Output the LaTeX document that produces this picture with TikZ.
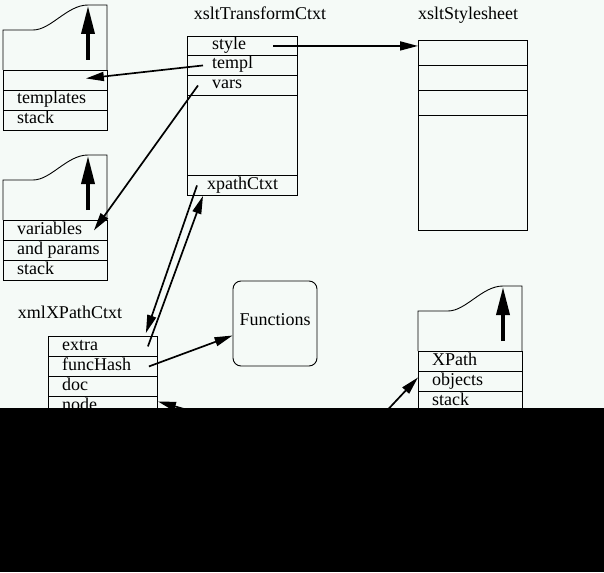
\documentclass[tikz,border=0pt]{standalone}
\usepackage{fontspec}
\setmainfont{Liberation Serif}
\usetikzlibrary{arrows.meta}

\definecolor{paper}{RGB}{245,250,247}
\tikzset{
  fld/.style={draw, line width=0.9pt, rectangle, inner sep=0pt, anchor=north west,
              minimum width=104pt, minimum height=20pt},
  lbl/.style={anchor=base west, inner sep=0pt},
  ttl/.style={anchor=base, inner sep=0pt},
  ptr/.style={line width=1.7pt, -{Triangle[length=18pt,width=9pt]}},
  lift/.style={line width=3.5pt, -{Triangle[length=28pt,width=13pt]}}
}

\begin{document}
\begin{tikzpicture}[x=1pt, y=-1pt, font=\fontsize{18pt}{20pt}\selectfont]
      \useasboundingbox (0,0) rectangle (604,572);
      \fill[paper] (0,0) rectangle (604,572);
      % stacks
      \foreach \x/\y/\a/\b/\c/\st in {3/5/{}/templates/stack/a, 3/155/variables/and params/stack/b, 418/286/XPath/objects/stack/c} {
        \draw[line width=0.9pt] (\x,\y+65) -- (\x,\y+25) -- (\x+30,\y+25)
              .. controls (\x+48,\y+25) and (\x+64,\y) .. (\x+85,\y) -- (\x+104,\y) -- (\x+104,\y+65);
        \draw[lift]   (\x+85,\y+55) -- (\x+85,\y+1);
        \node[fld]    (\st1) at (\x,\y+65) {};
        \node[fld]    (\st2) at (\x,\y+85) {};
        \node[fld]    (\st3) at (\x,\y+105) {};
        \node[lbl]    at ([xshift=14,yshift=-14]\st1.north west) {\a};
        \node[lbl]    at ([xshift=14,yshift=-14]\st2.north west) {\b};
        \node[lbl]    at ([xshift=14,yshift=-14]\st3.north west) {\c};
      }
      % xsltTransformCtxt
      \node[ttl] (tct) at (260,20) {xsltTransformCtxt};
      \foreach \y/\h/\t/\o/\st in {36/19/style/25/sty, 55/20/templ/25/tpl, 75/20/vars/25/var, 95/80/{}/25/blk, 175/20/xpathCtxt/20/xpc} {
        \node[fld, minimum width=110pt, minimum height=\h] (\st) at (187,\y) {};
        \node[lbl] at ([xshift=\o,yshift=-14]\st.north west) {\t};
      }
      % xsltStylesheet
      \node[ttl] (tss) at (468,20) {xsltStylesheet};
      \foreach \y/\h/\n in {40/25/1, 65/25/2, 90/25/3, 115/115/4}
        \node[fld, minimum width=109pt, minimum height=\h] (ss\n) at (418,\y) {};
      % xmlXPathCtxt
      \node[ttl] (txp) at (70,318) {xmlXPathCtxt};
      \foreach \y/\t/\st in {336/extra/ext, 356/funcHash/fh, 376/doc/doc, 396/node/nd} {
        \node[fld, minimum width=109pt] (\st) at (48,\y) {};
        \node[lbl] at ([xshift=14,yshift=-14]\st.north west) {\t};
      }
      \node[draw, line width=0.9pt, rounded corners=8pt, minimum width=84pt, minimum height=85pt,
            text height=12pt, text depth=9pt] (fn) at (275,323.5) {Functions};
      % pointers
      \coordinate (sty0) at ([xshift=86]sty.west);
      \draw[ptr] (sty0) -- (sty0 -| ss1.west);
      \draw[ptr] ([xshift=16]tpl.west) -- ([xshift=-22,yshift=2]a1.east);
      \draw[ptr] ([xshift=11]var.west) -- ([xshift=-14]b1.east);
      \draw[ptr] ([xshift=10]xpc.west) -- ([xshift=-12,yshift=3]ext.north east);
      \draw[ptr] ([xshift=-10]ext.east) -- ([xshift=16]xpc.south west);
      \draw[ptr] ([xshift=-9]fh.east) -- ([yshift=-12]fn.west);
      \coordinate (ob0) at (380,418);
      \draw[ptr] (ob0) -- ([yshift=4]c2.west);
      \coordinate (nd0) at (215,418);
      \draw[ptr] (nd0) -- ([yshift=5]nd.east);
      \fill[black] (0,408) rectangle (604,572);
\end{tikzpicture}
\end{document}
